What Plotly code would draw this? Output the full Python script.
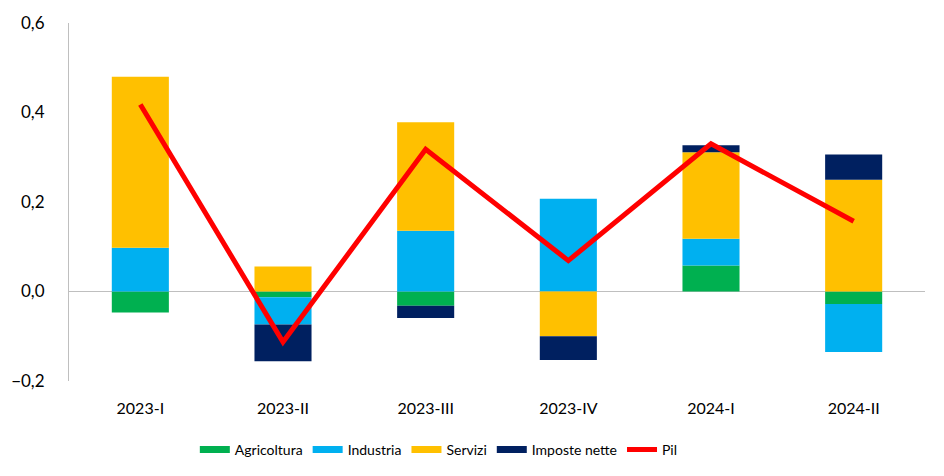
import plotly.graph_objects as go

categories = ["2023-I", "2023-II", "2023-III", "2023-IV", "2024-I", "2024-II"]
agricoltura = [-0.047, -0.013, -0.032, 0.0, 0.058, -0.028]
industria = [0.098, -0.061, 0.136, 0.207, 0.060, -0.107]
servizi = [0.382, 0.056, 0.242, -0.100, 0.193, 0.250]
imposte_nette = [0.0, -0.082, -0.027, -0.053, 0.016, 0.056]
pil = [0.418, -0.113, 0.318, 0.069, 0.330, 0.157]

font_family = "Lato, Open Sans, sans-serif"

series = [
    ("Agricoltura", agricoltura, "#00B050"),
    ("Industria", industria, "#00B0F0"),
    ("Servizi", servizi, "#FFC000"),
    ("Imposte nette", imposte_nette, "#002060"),
]

fig = go.Figure()
for name, vals, col in series:
    fig.add_trace(go.Bar(x=categories, y=vals, name=name, marker_color=col,
                         marker_line_width=0, width=0.4, showlegend=False,
                         legendgroup=name))

fig.add_trace(go.Scatter(x=categories, y=pil, name="Pil", mode="lines",
                         line=dict(color="#FF0000", width=5), showlegend=False,
                         legendgroup="Pil"))

# legend entries (wide rectangle swatches like the original)
for name, vals, col in series:
    fig.add_trace(go.Scatter(x=[None], y=[None], name=name, mode="lines",
                             line=dict(color=col, width=7), legendgroup=name))
fig.add_trace(go.Scatter(x=[None], y=[None], name="Pil", mode="lines",
                         line=dict(color="#FF0000", width=5), legendgroup="Pil"))

fig.update_layout(
    barmode="relative",
    width=936, height=468,
    margin=dict(l=61, r=19, t=15, b=95, autoexpand=False),
    plot_bgcolor="white", paper_bgcolor="white",
    separators=",.",
    font=dict(family=font_family, color="#000000"),
    showlegend=True,
    legend=dict(orientation="h", x=0.147, xanchor="left", y=-0.148, yanchor="top",
                font=dict(size=14, family=font_family), traceorder="normal",
                itemwidth=30, tracegroupgap=0),
    xaxis=dict(showline=False, showgrid=False, ticks="", tickfont=dict(size=16),
               ticklabelstandoff=16, automargin=False, fixedrange=True),
    yaxis=dict(range=[-0.2, 0.6], dtick=0.2, tickformat=".1f", showgrid=False,
               showline=True, linecolor="#BFBFBF", linewidth=1,
               zeroline=True, zerolinecolor="#BFBFBF", zerolinewidth=1,
               ticks="", ticklen=0, tickfont=dict(size=17),
               ticklabelstandoff=20, automargin=False, fixedrange=True),
)

fig.write_html("out.html")
